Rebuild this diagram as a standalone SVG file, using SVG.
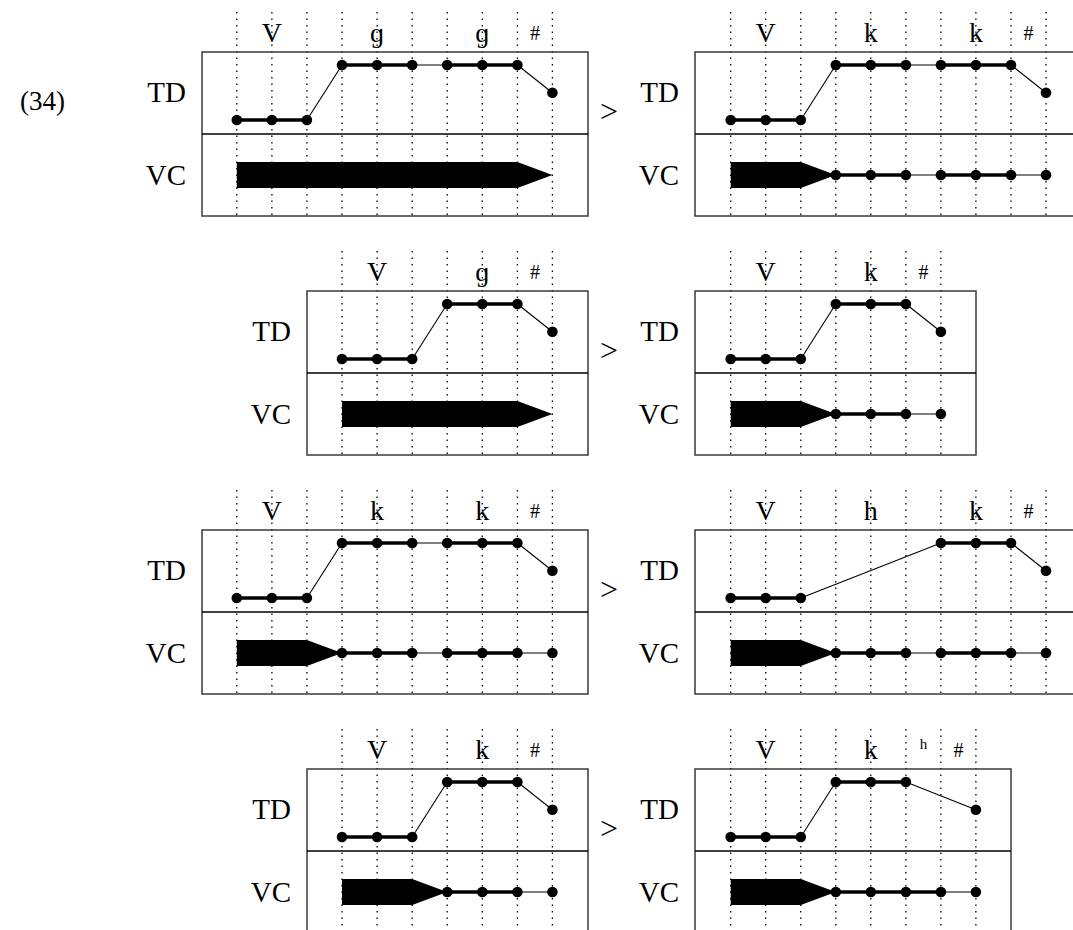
<svg xmlns="http://www.w3.org/2000/svg" width="1073" height="930" viewBox="0 0 1073 930">
<style>
.bg{fill:#fff}
.box{fill:none;stroke:#3a3a3a;stroke-width:1.5}
.dv{stroke:#000;stroke-width:1.5}
.grid{stroke:#000;stroke-width:1.3;stroke-dasharray:1.4 5.1}
.thick{stroke:#000;stroke-width:3.3;fill:none}
.thin{stroke:#000;stroke-width:1.1;fill:none}
.dot{fill:#000}
.ar{fill:#000}
text{font-family:"Liberation Serif","Times New Roman",serif;fill:#000}
.lab{font-size:28px;text-anchor:middle}
.hash{font-size:20px;text-anchor:middle}
.sm{font-size:15px;text-anchor:middle}
.tier{font-size:29px;text-anchor:end}
.gt{font-size:32px;text-anchor:middle}
.num{font-size:27px}
</style>
<rect class="bg" x="0" y="0" width="1073" height="930"/>
<text class="num" x="20" y="110">(34)</text>

<!-- Row 1 left -->
<g id="panel-1a">
<g class="gridlines">
<line class="grid" x1="236.8" y1="12" x2="236.8" y2="216"/><line class="grid" x1="271.9" y1="12" x2="271.9" y2="216"/><line class="grid" x1="306.9" y1="12" x2="306.9" y2="216"/><line class="grid" x1="342" y1="12" x2="342" y2="216"/><line class="grid" x1="377.1" y1="12" x2="377.1" y2="216"/><line class="grid" x1="412.2" y1="12" x2="412.2" y2="216"/><line class="grid" x1="447.2" y1="12" x2="447.2" y2="216"/><line class="grid" x1="482.3" y1="12" x2="482.3" y2="216"/><line class="grid" x1="517.4" y1="12" x2="517.4" y2="216"/><line class="grid" x1="552.4" y1="12" x2="552.4" y2="216"/>
</g>
<rect class="box" x="202" y="52" width="386" height="164"/>
<line class="dv" x1="202" y1="134" x2="588" y2="134"/>
<text class="lab" x="271.9" y="42">V</text><text class="lab" x="377.1" y="42">ɡ</text><text class="lab" x="482.3" y="42">ɡ</text><text class="hash" x="534.9" y="40">#</text>
<text class="tier" x="186" y="102">TD</text><text class="tier" x="186" y="185">VC</text>
<g class="connectors">
<polyline class="thick" points="236.8,120 306.9,120"/><line class="thin" x1="306.9" y1="120" x2="342" y2="65"/><polyline class="thick" points="342,65 412.2,65"/><line class="thin" x1="412.2" y1="65" x2="447.2" y2="65"/><polyline class="thick" points="447.2,65 517.4,65"/><line class="thin" x1="517.4" y1="65" x2="552.4" y2="92.7"/>
</g>
<circle class="dot" cx="236.8" cy="120" r="5.3"/><circle class="dot" cx="271.9" cy="120" r="5.3"/><circle class="dot" cx="306.9" cy="120" r="5.3"/><circle class="dot" cx="342" cy="65" r="5.3"/><circle class="dot" cx="377.1" cy="65" r="5.3"/><circle class="dot" cx="412.2" cy="65" r="5.3"/><circle class="dot" cx="447.2" cy="65" r="5.3"/><circle class="dot" cx="482.3" cy="65" r="5.3"/><circle class="dot" cx="517.4" cy="65" r="5.3"/><circle class="dot" cx="552.4" cy="92.7" r="5.3"/>
<polygon class="ar" points="236.8,162 517.4,162 552.4,175 517.4,188 236.8,188"/>
</g>
<text class="gt" x="609" y="122">&gt;</text>

<!-- Row 1 right -->
<g id="panel-1b">
<g class="gridlines">
<line class="grid" x1="730.7" y1="12" x2="730.7" y2="216"/><line class="grid" x1="765.7" y1="12" x2="765.7" y2="216"/><line class="grid" x1="800.8" y1="12" x2="800.8" y2="216"/><line class="grid" x1="835.8" y1="12" x2="835.8" y2="216"/><line class="grid" x1="870.8" y1="12" x2="870.8" y2="216"/><line class="grid" x1="905.9" y1="12" x2="905.9" y2="216"/><line class="grid" x1="940.9" y1="12" x2="940.9" y2="216"/><line class="grid" x1="975.9" y1="12" x2="975.9" y2="216"/><line class="grid" x1="1011" y1="12" x2="1011" y2="216"/><line class="grid" x1="1046" y1="12" x2="1046" y2="216"/>
</g>
<rect class="box" x="695" y="52" width="387" height="164"/>
<line class="dv" x1="695" y1="134" x2="1082" y2="134"/>
<text class="lab" x="765.7" y="42">V</text><text class="lab" x="870.8" y="42">k</text><text class="lab" x="975.9" y="42">k</text><text class="hash" x="1028.5" y="40">#</text>
<text class="tier" x="679" y="102">TD</text><text class="tier" x="679" y="185">VC</text>
<g class="connectors">
<polyline class="thick" points="730.7,120 800.8,120"/><line class="thin" x1="800.8" y1="120" x2="835.8" y2="65"/><polyline class="thick" points="835.8,65 905.9,65"/><line class="thin" x1="905.9" y1="65" x2="940.9" y2="65"/><polyline class="thick" points="940.9,65 1011,65"/><line class="thin" x1="1011" y1="65" x2="1046" y2="92.7"/>
<polyline class="thick" points="835.8,175 905.9,175"/><line class="thin" x1="905.9" y1="175" x2="940.9" y2="175"/><polyline class="thick" points="940.9,175 1011,175"/><line class="thin" x1="1011" y1="175" x2="1046" y2="175"/>
</g>
<circle class="dot" cx="730.7" cy="120" r="5.3"/><circle class="dot" cx="765.7" cy="120" r="5.3"/><circle class="dot" cx="800.8" cy="120" r="5.3"/><circle class="dot" cx="835.8" cy="65" r="5.3"/><circle class="dot" cx="870.8" cy="65" r="5.3"/><circle class="dot" cx="905.9" cy="65" r="5.3"/><circle class="dot" cx="940.9" cy="65" r="5.3"/><circle class="dot" cx="975.9" cy="65" r="5.3"/><circle class="dot" cx="1011" cy="65" r="5.3"/><circle class="dot" cx="1046" cy="92.7" r="5.3"/>
<polygon class="ar" points="730.7,162 800.8,162 835.8,175 800.8,188 730.7,188"/>
<circle class="dot" cx="835.8" cy="175" r="5.3"/><circle class="dot" cx="870.8" cy="175" r="5.3"/><circle class="dot" cx="905.9" cy="175" r="5.3"/><circle class="dot" cx="940.9" cy="175" r="5.3"/><circle class="dot" cx="975.9" cy="175" r="5.3"/><circle class="dot" cx="1011" cy="175" r="5.3"/><circle class="dot" cx="1046" cy="175" r="5.3"/>
</g>

<!-- Row 2 left -->
<g id="panel-2a">
<g class="gridlines">
<line class="grid" x1="342" y1="251" x2="342" y2="455"/><line class="grid" x1="377.1" y1="251" x2="377.1" y2="455"/><line class="grid" x1="412.2" y1="251" x2="412.2" y2="455"/><line class="grid" x1="447.2" y1="251" x2="447.2" y2="455"/><line class="grid" x1="482.3" y1="251" x2="482.3" y2="455"/><line class="grid" x1="517.4" y1="251" x2="517.4" y2="455"/><line class="grid" x1="552.4" y1="251" x2="552.4" y2="455"/>
</g>
<rect class="box" x="307" y="291" width="281" height="164"/>
<line class="dv" x1="307" y1="373" x2="588" y2="373"/>
<text class="lab" x="377.1" y="281">V</text><text class="lab" x="482.3" y="281">ɡ</text><text class="hash" x="534.9" y="279">#</text>
<text class="tier" x="291" y="341">TD</text><text class="tier" x="291" y="424">VC</text>
<g class="connectors">
<polyline class="thick" points="342,359 412.2,359"/><line class="thin" x1="412.2" y1="359" x2="447.2" y2="304"/><polyline class="thick" points="447.2,304 517.4,304"/><line class="thin" x1="517.4" y1="304" x2="552.4" y2="331.7"/>
</g>
<circle class="dot" cx="342" cy="359" r="5.3"/><circle class="dot" cx="377.1" cy="359" r="5.3"/><circle class="dot" cx="412.2" cy="359" r="5.3"/><circle class="dot" cx="447.2" cy="304" r="5.3"/><circle class="dot" cx="482.3" cy="304" r="5.3"/><circle class="dot" cx="517.4" cy="304" r="5.3"/><circle class="dot" cx="552.4" cy="331.7" r="5.3"/>
<polygon class="ar" points="342,401 517.4,401 552.4,414 517.4,427 342,427"/>
</g>
<text class="gt" x="609" y="361">&gt;</text>

<!-- Row 2 right -->
<g id="panel-2b">
<g class="gridlines">
<line class="grid" x1="730.7" y1="251" x2="730.7" y2="455"/><line class="grid" x1="765.7" y1="251" x2="765.7" y2="455"/><line class="grid" x1="800.8" y1="251" x2="800.8" y2="455"/><line class="grid" x1="835.8" y1="251" x2="835.8" y2="455"/><line class="grid" x1="870.8" y1="251" x2="870.8" y2="455"/><line class="grid" x1="905.9" y1="251" x2="905.9" y2="455"/><line class="grid" x1="940.9" y1="251" x2="940.9" y2="455"/>
</g>
<rect class="box" x="695" y="291" width="281" height="164"/>
<line class="dv" x1="695" y1="373" x2="976" y2="373"/>
<text class="lab" x="765.7" y="281">V</text><text class="lab" x="870.8" y="281">k</text><text class="hash" x="923.4" y="279">#</text>
<text class="tier" x="679" y="341">TD</text><text class="tier" x="679" y="424">VC</text>
<g class="connectors">
<polyline class="thick" points="730.7,359 800.8,359"/><line class="thin" x1="800.8" y1="359" x2="835.8" y2="304"/><polyline class="thick" points="835.8,304 905.9,304"/><line class="thin" x1="905.9" y1="304" x2="940.9" y2="331.7"/>
<polyline class="thick" points="835.8,414 905.9,414"/><line class="thin" x1="905.9" y1="414" x2="940.9" y2="414"/>
</g>
<circle class="dot" cx="730.7" cy="359" r="5.3"/><circle class="dot" cx="765.7" cy="359" r="5.3"/><circle class="dot" cx="800.8" cy="359" r="5.3"/><circle class="dot" cx="835.8" cy="304" r="5.3"/><circle class="dot" cx="870.8" cy="304" r="5.3"/><circle class="dot" cx="905.9" cy="304" r="5.3"/><circle class="dot" cx="940.9" cy="331.7" r="5.3"/>
<polygon class="ar" points="730.7,401 800.8,401 835.8,414 800.8,427 730.7,427"/>
<circle class="dot" cx="835.8" cy="414" r="5.3"/><circle class="dot" cx="870.8" cy="414" r="5.3"/><circle class="dot" cx="905.9" cy="414" r="5.3"/><circle class="dot" cx="940.9" cy="414" r="5.3"/>
</g>

<!-- Row 3 left -->
<g id="panel-3a">
<g class="gridlines">
<line class="grid" x1="236.8" y1="490" x2="236.8" y2="694"/><line class="grid" x1="271.9" y1="490" x2="271.9" y2="694"/><line class="grid" x1="306.9" y1="490" x2="306.9" y2="694"/><line class="grid" x1="342" y1="490" x2="342" y2="694"/><line class="grid" x1="377.1" y1="490" x2="377.1" y2="694"/><line class="grid" x1="412.2" y1="490" x2="412.2" y2="694"/><line class="grid" x1="447.2" y1="490" x2="447.2" y2="694"/><line class="grid" x1="482.3" y1="490" x2="482.3" y2="694"/><line class="grid" x1="517.4" y1="490" x2="517.4" y2="694"/><line class="grid" x1="552.4" y1="490" x2="552.4" y2="694"/>
</g>
<rect class="box" x="202" y="530" width="386" height="164"/>
<line class="dv" x1="202" y1="612" x2="588" y2="612"/>
<text class="lab" x="271.9" y="520">V</text><text class="lab" x="377.1" y="520">k</text><text class="lab" x="482.3" y="520">k</text><text class="hash" x="534.9" y="518">#</text>
<text class="tier" x="186" y="580">TD</text><text class="tier" x="186" y="663">VC</text>
<g class="connectors">
<polyline class="thick" points="236.8,598 306.9,598"/><line class="thin" x1="306.9" y1="598" x2="342" y2="543"/><polyline class="thick" points="342,543 412.2,543"/><line class="thin" x1="412.2" y1="543" x2="447.2" y2="543"/><polyline class="thick" points="447.2,543 517.4,543"/><line class="thin" x1="517.4" y1="543" x2="552.4" y2="570.7"/>
<polyline class="thick" points="342,653 412.2,653"/><line class="thin" x1="412.2" y1="653" x2="447.2" y2="653"/><polyline class="thick" points="447.2,653 517.4,653"/><line class="thin" x1="517.4" y1="653" x2="552.4" y2="653"/>
</g>
<circle class="dot" cx="236.8" cy="598" r="5.3"/><circle class="dot" cx="271.9" cy="598" r="5.3"/><circle class="dot" cx="306.9" cy="598" r="5.3"/><circle class="dot" cx="342" cy="543" r="5.3"/><circle class="dot" cx="377.1" cy="543" r="5.3"/><circle class="dot" cx="412.2" cy="543" r="5.3"/><circle class="dot" cx="447.2" cy="543" r="5.3"/><circle class="dot" cx="482.3" cy="543" r="5.3"/><circle class="dot" cx="517.4" cy="543" r="5.3"/><circle class="dot" cx="552.4" cy="570.7" r="5.3"/>
<polygon class="ar" points="236.8,640 306.9,640 342,653 306.9,666 236.8,666"/>
<circle class="dot" cx="342" cy="653" r="5.3"/><circle class="dot" cx="377.1" cy="653" r="5.3"/><circle class="dot" cx="412.2" cy="653" r="5.3"/><circle class="dot" cx="447.2" cy="653" r="5.3"/><circle class="dot" cx="482.3" cy="653" r="5.3"/><circle class="dot" cx="517.4" cy="653" r="5.3"/><circle class="dot" cx="552.4" cy="653" r="5.3"/>
</g>
<text class="gt" x="609" y="600">&gt;</text>

<!-- Row 3 right -->
<g id="panel-3b">
<g class="gridlines">
<line class="grid" x1="730.7" y1="490" x2="730.7" y2="694"/><line class="grid" x1="765.7" y1="490" x2="765.7" y2="694"/><line class="grid" x1="800.8" y1="490" x2="800.8" y2="694"/><line class="grid" x1="835.8" y1="490" x2="835.8" y2="694"/><line class="grid" x1="870.8" y1="490" x2="870.8" y2="694"/><line class="grid" x1="905.9" y1="490" x2="905.9" y2="694"/><line class="grid" x1="940.9" y1="490" x2="940.9" y2="694"/><line class="grid" x1="975.9" y1="490" x2="975.9" y2="694"/><line class="grid" x1="1011" y1="490" x2="1011" y2="694"/><line class="grid" x1="1046" y1="490" x2="1046" y2="694"/>
</g>
<rect class="box" x="695" y="530" width="387" height="164"/>
<line class="dv" x1="695" y1="612" x2="1082" y2="612"/>
<text class="lab" x="765.7" y="520">V</text><text class="lab" x="870.8" y="520">h</text><text class="lab" x="975.9" y="520">k</text><text class="hash" x="1028.5" y="518">#</text>
<text class="tier" x="679" y="580">TD</text><text class="tier" x="679" y="663">VC</text>
<g class="connectors">
<polyline class="thick" points="730.7,598 800.8,598"/><line class="thin" x1="800.8" y1="598" x2="940.9" y2="543"/><polyline class="thick" points="940.9,543 1011,543"/><line class="thin" x1="1011" y1="543" x2="1046" y2="570.7"/>
<polyline class="thick" points="835.8,653 905.9,653"/><line class="thin" x1="905.9" y1="653" x2="940.9" y2="653"/><polyline class="thick" points="940.9,653 1011,653"/><line class="thin" x1="1011" y1="653" x2="1046" y2="653"/>
</g>
<circle class="dot" cx="730.7" cy="598" r="5.3"/><circle class="dot" cx="765.7" cy="598" r="5.3"/><circle class="dot" cx="800.8" cy="598" r="5.3"/><circle class="dot" cx="940.9" cy="543" r="5.3"/><circle class="dot" cx="975.9" cy="543" r="5.3"/><circle class="dot" cx="1011" cy="543" r="5.3"/><circle class="dot" cx="1046" cy="570.7" r="5.3"/>
<polygon class="ar" points="730.7,640 800.8,640 835.8,653 800.8,666 730.7,666"/>
<circle class="dot" cx="835.8" cy="653" r="5.3"/><circle class="dot" cx="870.8" cy="653" r="5.3"/><circle class="dot" cx="905.9" cy="653" r="5.3"/><circle class="dot" cx="940.9" cy="653" r="5.3"/><circle class="dot" cx="975.9" cy="653" r="5.3"/><circle class="dot" cx="1011" cy="653" r="5.3"/><circle class="dot" cx="1046" cy="653" r="5.3"/>
</g>

<!-- Row 4 left -->
<g id="panel-4a">
<g class="gridlines">
<line class="grid" x1="342" y1="729" x2="342" y2="933"/><line class="grid" x1="377.1" y1="729" x2="377.1" y2="933"/><line class="grid" x1="412.2" y1="729" x2="412.2" y2="933"/><line class="grid" x1="447.2" y1="729" x2="447.2" y2="933"/><line class="grid" x1="482.3" y1="729" x2="482.3" y2="933"/><line class="grid" x1="517.4" y1="729" x2="517.4" y2="933"/><line class="grid" x1="552.4" y1="729" x2="552.4" y2="933"/>
</g>
<rect class="box" x="307" y="769" width="281" height="164"/>
<line class="dv" x1="307" y1="851" x2="588" y2="851"/>
<text class="lab" x="377.1" y="759">V</text><text class="lab" x="482.3" y="759">k</text><text class="hash" x="534.9" y="757">#</text>
<text class="tier" x="291" y="819">TD</text><text class="tier" x="291" y="902">VC</text>
<g class="connectors">
<polyline class="thick" points="342,837 412.2,837"/><line class="thin" x1="412.2" y1="837" x2="447.2" y2="782"/><polyline class="thick" points="447.2,782 517.4,782"/><line class="thin" x1="517.4" y1="782" x2="552.4" y2="809.7"/>
<polyline class="thick" points="447.2,892 517.4,892"/><line class="thin" x1="517.4" y1="892" x2="552.4" y2="892"/>
</g>
<circle class="dot" cx="342" cy="837" r="5.3"/><circle class="dot" cx="377.1" cy="837" r="5.3"/><circle class="dot" cx="412.2" cy="837" r="5.3"/><circle class="dot" cx="447.2" cy="782" r="5.3"/><circle class="dot" cx="482.3" cy="782" r="5.3"/><circle class="dot" cx="517.4" cy="782" r="5.3"/><circle class="dot" cx="552.4" cy="809.7" r="5.3"/>
<polygon class="ar" points="342,879 412.2,879 447.2,892 412.2,905 342,905"/>
<circle class="dot" cx="447.2" cy="892" r="5.3"/><circle class="dot" cx="482.3" cy="892" r="5.3"/><circle class="dot" cx="517.4" cy="892" r="5.3"/><circle class="dot" cx="552.4" cy="892" r="5.3"/>
</g>
<text class="gt" x="609" y="839">&gt;</text>

<!-- Row 4 right -->
<g id="panel-4b">
<g class="gridlines">
<line class="grid" x1="730.7" y1="729" x2="730.7" y2="933"/><line class="grid" x1="765.7" y1="729" x2="765.7" y2="933"/><line class="grid" x1="800.8" y1="729" x2="800.8" y2="933"/><line class="grid" x1="835.8" y1="729" x2="835.8" y2="933"/><line class="grid" x1="870.8" y1="729" x2="870.8" y2="933"/><line class="grid" x1="905.9" y1="729" x2="905.9" y2="933"/><line class="grid" x1="940.9" y1="729" x2="940.9" y2="933"/><line class="grid" x1="975.9" y1="729" x2="975.9" y2="933"/>
</g>
<rect class="box" x="695" y="769" width="316" height="164"/>
<line class="dv" x1="695" y1="851" x2="1011" y2="851"/>
<text class="lab" x="765.7" y="759">V</text><text class="lab" x="870.8" y="759">k</text><text class="sm" x="923.4" y="749">h</text><text class="hash" x="958.4" y="757">#</text>
<text class="tier" x="679" y="819">TD</text><text class="tier" x="679" y="902">VC</text>
<g class="connectors">
<polyline class="thick" points="730.7,837 800.8,837"/><line class="thin" x1="800.8" y1="837" x2="835.8" y2="782"/><polyline class="thick" points="835.8,782 905.9,782"/><line class="thin" x1="905.9" y1="782" x2="975.9" y2="809.7"/>
<polyline class="thick" points="835.8,892 940.9,892"/><line class="thin" x1="940.9" y1="892" x2="975.9" y2="892"/>
</g>
<circle class="dot" cx="730.7" cy="837" r="5.3"/><circle class="dot" cx="765.7" cy="837" r="5.3"/><circle class="dot" cx="800.8" cy="837" r="5.3"/><circle class="dot" cx="835.8" cy="782" r="5.3"/><circle class="dot" cx="870.8" cy="782" r="5.3"/><circle class="dot" cx="905.9" cy="782" r="5.3"/><circle class="dot" cx="975.9" cy="809.7" r="5.3"/>
<polygon class="ar" points="730.7,879 800.8,879 835.8,892 800.8,905 730.7,905"/>
<circle class="dot" cx="835.8" cy="892" r="5.3"/><circle class="dot" cx="870.8" cy="892" r="5.3"/><circle class="dot" cx="905.9" cy="892" r="5.3"/><circle class="dot" cx="940.9" cy="892" r="5.3"/><circle class="dot" cx="975.9" cy="892" r="5.3"/>
</g>
</svg>
